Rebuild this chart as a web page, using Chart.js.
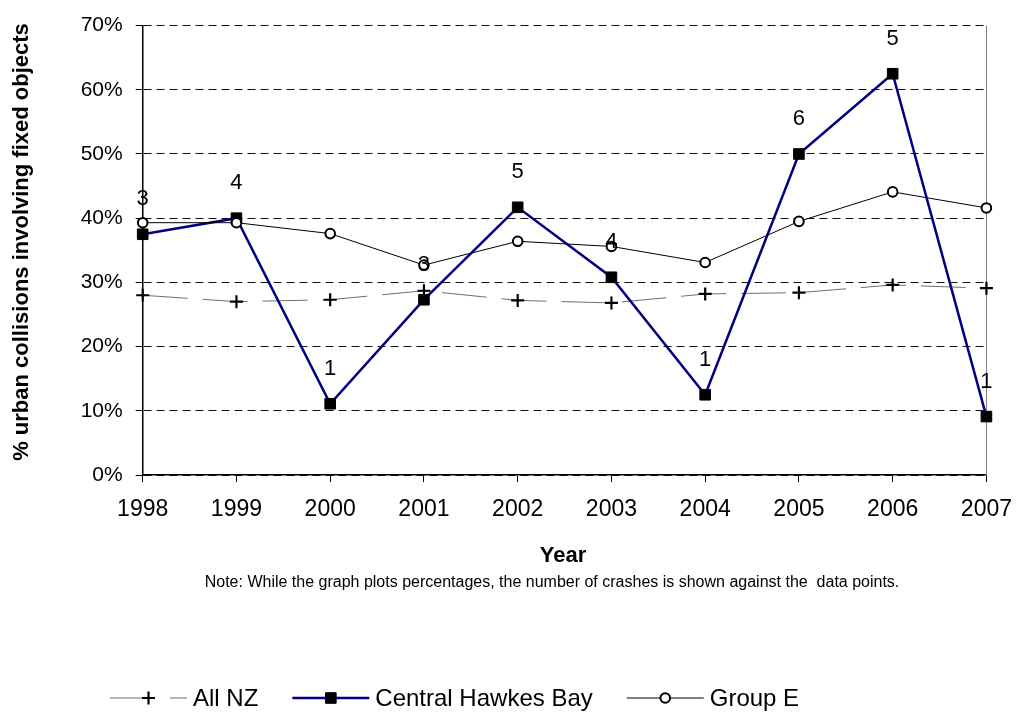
<!DOCTYPE html>
<html>
<head>
<meta charset="utf-8">
<script src="https://cdn.jsdelivr.net/npm/chart.js@4/dist/chart.umd.min.js"></script>
<style>
  html, body { margin: 0; padding: 0; background: #fff; }
  canvas { display: block; }
</style>
</head>
<body>
<canvas id="c" width="1026" height="713"></canvas>
<script>
// ---- data ----
const years = ['1998', '1999', '2000', '2001', '2002', '2003', '2004', '2005', '2006', '2007'];
const allNZ = [28.0, 27.0, 27.3, 28.7, 27.2, 26.8, 28.2, 28.4, 29.6, 29.1];
const centralHawkesBay = [37.5, 40.0, 11.1, 27.3, 41.7, 30.8, 12.5, 50.0, 62.5, 9.1];
const groupE = [39.3, 39.3, 37.6, 32.7, 36.4, 35.6, 33.1, 39.5, 44.1, 41.6];
const crashCounts = [3, 4, 1, 3, 5, 4, 1, 6, 5, 1];
const yTickValues = [0, 10, 20, 30, 40, 50, 60, 70];

const yTitle = '% urban collisions involving fixed objects';
const xTitle = 'Year';
const note = 'Note: While the graph plots percentages, the number of crashes is shown against the  data points.';

const FONT = '"Liberation Sans", Arial, Helvetica, sans-serif';

const extras = {
  id: 'extras',
  beforeDatasetsDraw(chart) {
    const ctx = chart.ctx, a = chart.chartArea;
    ctx.save();
    ctx.strokeStyle = '#808080';
    ctx.lineWidth = 1;
    const xr = Math.round(a.right) + 0.5;
    ctx.beginPath(); ctx.moveTo(xr, a.top); ctx.lineTo(xr, a.bottom); ctx.stroke();
    ctx.restore();
  },
  afterDatasetsDraw(chart) {
    const ctx = chart.ctx;
    const meta = chart.getDatasetMeta(1);
    ctx.save();
    ctx.fillStyle = '#000';
    ctx.font = '22px ' + FONT;
    ctx.textAlign = 'center';
    ctx.textBaseline = 'middle';
    meta.data.forEach((pt, i) => {
      ctx.fillText(String(crashCounts[i]), pt.x, pt.y - 35);
    });
    ctx.restore();
  },
  afterDraw(chart) {
    const ctx = chart.ctx;
    ctx.save();
    ctx.fillStyle = '#000';
    // y title
    ctx.save();
    ctx.translate(28, 242);
    ctx.rotate(-Math.PI / 2);
    ctx.font = 'bold 22px ' + FONT;
    ctx.textAlign = 'center';
    ctx.textBaseline = 'alphabetic';
    ctx.fillText(yTitle, 0, 0);
    ctx.restore();
    // x title
    ctx.font = 'bold 22px ' + FONT;
    ctx.textAlign = 'center';
    ctx.textBaseline = 'alphabetic';
    ctx.fillText(xTitle, 563, 562);
    // note
    ctx.font = '16px ' + FONT;
    ctx.fillText(note, 552, 587);
    // legend
    const ly = 698;
    let x = 110;
    ctx.font = '24px ' + FONT;
    ctx.textAlign = 'left';
    ctx.textBaseline = 'middle';
    chart.data.datasets.forEach((ds) => {
      const x0 = x, x1 = x + 77, xm = (x0 + x1) / 2;
      ctx.save();
      ctx.strokeStyle = ds.borderColor;
      ctx.lineWidth = ds.borderWidth;
      ctx.setLineDash(ds.borderDash || []);
      ctx.beginPath(); ctx.moveTo(x0, ly); ctx.lineTo(x1, ly); ctx.stroke();
      ctx.restore();
      ctx.save();
      ctx.fillStyle = ds.pointBackgroundColor;
      ctx.strokeStyle = ds.pointBorderColor;
      ctx.lineWidth = ds.pointBorderWidth;
      Chart.helpers.drawPoint(ctx, {
        pointStyle: ds.pointStyle,
        radius: ds.pointRadius,
        borderWidth: ds.pointBorderWidth,
        rotation: 0
      }, xm, ly);
      ctx.restore();
      ctx.fillStyle = '#000';
      ctx.fillText(ds.label, x1 + 6, ly + 1);
      x = x1 + 6 + ctx.measureText(ds.label).width + 34;
    });
    ctx.restore();
  }
};

new Chart(document.getElementById('c'), {
  type: 'line',
  data: {
    labels: years,
    datasets: [
      {
        label: 'All NZ',
        data: allNZ,
        borderColor: '#6e6e6e',
        borderWidth: 1,
        borderDash: [45, 15],
        pointStyle: 'cross',
        pointRadius: 6.5,
        pointBorderWidth: 2.2,
        pointBorderColor: '#000',
        pointBackgroundColor: '#000',
        tension: 0,
        clip: false,
        order: 2
      },
      {
        label: 'Central Hawkes Bay',
        data: centralHawkesBay,
        borderColor: '#000080',
        borderWidth: 2.5,
        pointStyle: 'rect',
        pointRadius: 7.5,
        pointBorderWidth: 1,
        pointBorderColor: '#000',
        pointBackgroundColor: '#000',
        tension: 0,
        clip: false,
        order: 1
      },
      {
        label: 'Group E',
        data: groupE,
        borderColor: '#000',
        borderWidth: 1,
        pointStyle: 'circle',
        pointRadius: 4.8,
        pointBorderWidth: 2,
        pointBorderColor: '#000',
        pointBackgroundColor: '#fff',
        tension: 0,
        clip: false,
        order: 0
      }
    ]
  },
  options: {
    responsive: false,
    animation: false,
    events: [],
    layout: { padding: { left: 0, right: 30, top: 24.5, bottom: 0 } },
    plugins: {
      legend: { display: false },
      tooltip: { enabled: false },
      title: { display: false }
    },
    scales: {
      x: {
        type: 'category',
        offset: false,
        afterFit(s) { s.height = 238; },
        grid: {
          drawOnChartArea: false,
          drawTicks: true,
          tickLength: 7,
          tickColor: '#000',
          tickWidth: 1
        },
        border: { display: true, color: '#000', width: 1.5 },
        ticks: {
          color: '#000',
          font: { family: FONT, size: 23 },
          padding: 14,
          maxRotation: 0,
          autoSkip: false
        }
      },
      y: {
        min: 0,
        max: 70,
        afterFit(s) { s.width = 142.7; },
        afterBuildTicks(s) { s.ticks = yTickValues.map(v => ({ value: v })); },
        grid: {
          color: '#111',
          lineWidth: 1,
          drawTicks: true,
          tickLength: 7,
          tickColor: '#000',
          tickWidth: 1,
          tickBorderDash: []
        },
        border: { display: true, color: '#000', width: 1.5, dash: [8, 5] },
        ticks: {
          color: '#000',
          font: { family: FONT, size: 21 },
          padding: 13,
          callback: (v) => v + '%'
        }
      }
    }
  },
  plugins: [extras]
});
</script>
</body>
</html>
